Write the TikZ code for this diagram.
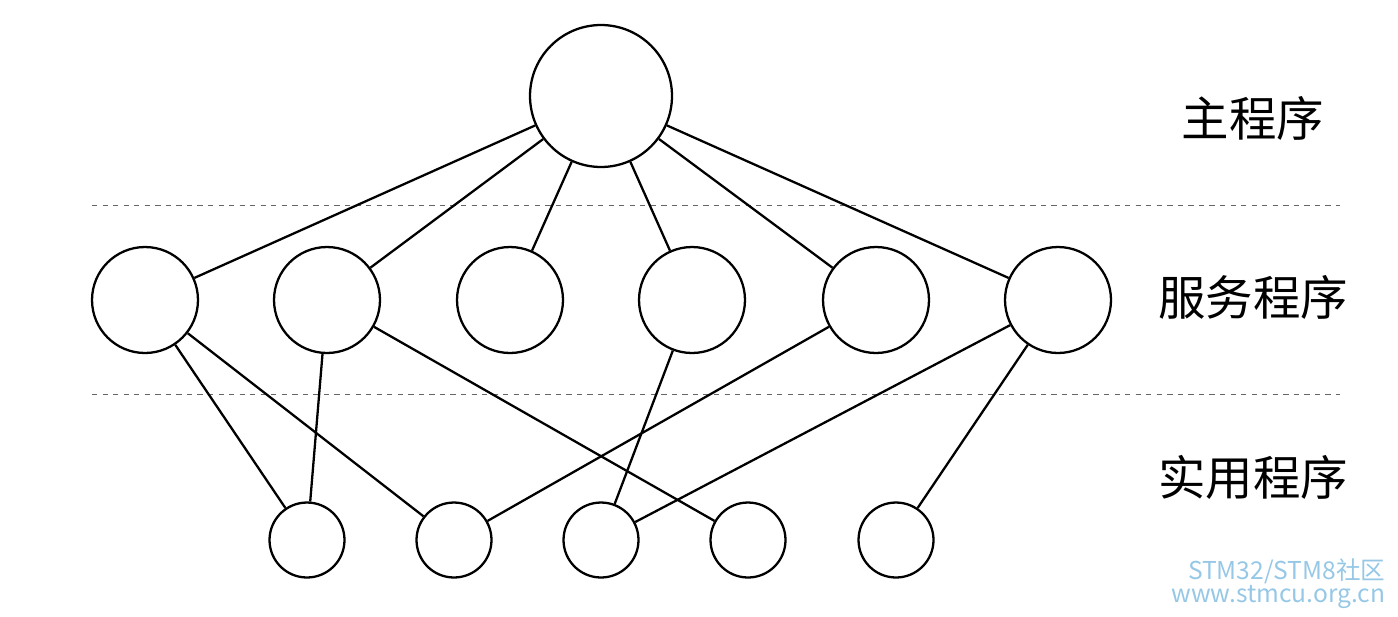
\documentclass[tikz,border=0pt]{standalone}
\usepackage{fontspec}
\newfontfamily\cjk{Noto Sans CJK SC}
\definecolor{wmblue}{RGB}{150,200,230}
\begin{document}
\begin{tikzpicture}[x=0.02cm,y=-0.02cm,
  thick,main node/.style={circle,draw,line width=1.3pt,inner sep=0pt},
  level/.style={font=\cjk\fontsize{27}{30}\selectfont,anchor=center}]
  \useasboundingbox (0,0) rectangle (1398,616);

  \node[main node,minimum size=2.84cm] (0) at (601,96) {};

  \node[main node,minimum size=2.12cm] (1) at (145,300) {};
  \node[main node,minimum size=2.12cm] (2) at (327,300) {};
  \node[main node,minimum size=2.12cm] (3) at (510,300) {};
  \node[main node,minimum size=2.12cm] (4) at (692,300) {};
  \node[main node,minimum size=2.12cm] (5) at (876,300) {};
  \node[main node,minimum size=2.12cm] (6) at (1058,300) {};

  \node[main node,minimum size=1.5cm] (11) at (307,540) {};
  \node[main node,minimum size=1.5cm] (12) at (454,540) {};
  \node[main node,minimum size=1.5cm] (13) at (601,540) {};
  \node[main node,minimum size=1.5cm] (14) at (748,540) {};
  \node[main node,minimum size=1.5cm] (15) at (896,540) {};

  \draw[dashed,thin,gray!80!black] (92,205) -- (1340,205);
  \draw[dashed,thin,gray!80!black] (92,394) -- (1340,394);

  \node[level] (l1) at (1253,118) {主程序};
  \node[level] (l2) at (1253,297) {服务程序};
  \node[level] (l3) at (1253,477) {实用程序};

  \node[font=\cjk\fontsize{14}{16}\selectfont,text=wmblue,anchor=east] (w1) at (1392,571) {STM32/STM8社区};
  \node[font=\cjk\fontsize{14}{16}\selectfont,text=wmblue,anchor=east] (w2) at (1392,597) {www.stmcu.org.cn};

  \path[line width=1.3pt]
   (0) edge (1)
   (0) edge (2)
   (0) edge (3)
   (0) edge (4)
   (0) edge (5)
   (0) edge (6)

   (1) edge (11)
   (1) edge (12)
   (2) edge (11)
   (2) edge (14)
   (4) edge (13)
   (5) edge (12)
   (6) edge (13)
   (6) edge (15);
\end{tikzpicture}
\end{document}
